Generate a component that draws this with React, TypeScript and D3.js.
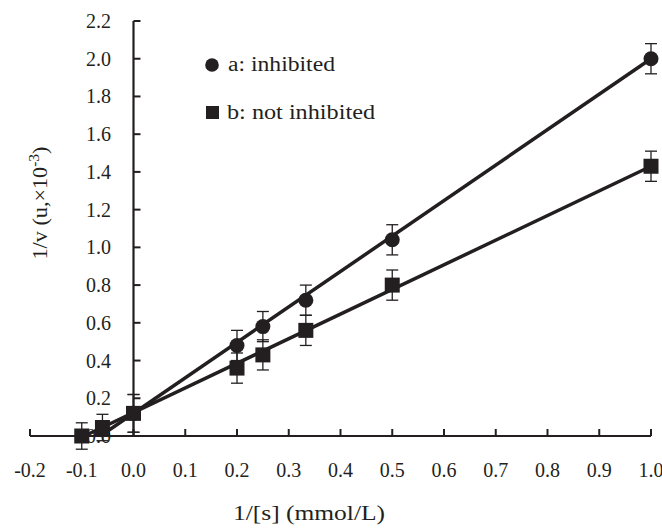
import { useEffect, useRef } from 'react'
import * as d3 from 'd3'

// series a: inhibited (circles)
const xA = [0.0, 0.2, 0.25, 0.333, 0.5, 1.0]
const yA = [0.12, 0.48, 0.58, 0.72, 1.04, 2.0]
const errA = [0.1, 0.08, 0.08, 0.08, 0.08, 0.08]

// series b: not inhibited (squares)
const xB = [-0.1, -0.06, 0.0, 0.2, 0.25, 0.333, 0.5, 1.0]
const yB = [0.0, 0.045, 0.12, 0.36, 0.43, 0.56, 0.8, 1.43]
const errB = [0.07, 0.07, 0.1, 0.08, 0.08, 0.08, 0.08, 0.08]

// fitted lines, end points
const lineA = [[-0.064, 0], [1.0, 2.0]]
const lineB = [[-0.095, 0], [1.0, 1.43]]

const xTicks = [-0.2, -0.1, 0.0, 0.1, 0.2, 0.3, 0.4, 0.5, 0.6, 0.7, 0.8, 0.9, 1.0]
const yTicks = [0.0, 0.2, 0.4, 0.6, 0.8, 1.0, 1.2, 1.4, 1.6, 1.8, 2.0, 2.2]

const INK = '#231f20'
const FONT = '"Liberation Serif", "Times New Roman", serif'

export default function App() {
  const svgRef = useRef<SVGSVGElement | null>(null)

  useEffect(() => {
    const el = svgRef.current
    if (!el) return
    const W = 662, H = 528
    d3.select(el).selectAll('*').remove()
    const svg = d3.select(el).attr('width', W).attr('height', H).attr('viewBox', `0 0 ${W} ${H}`)

    const x = d3.scaleLinear().domain([-0.2, 1.0]).range([30, 651])
    const y = d3.scaleLinear().domain([0, 2.2]).range([436, 21])

    // axes
    svg.append('line').attr('x1', x(-0.2)).attr('x2', x(1.0)).attr('y1', y(0)).attr('y2', y(0))
      .attr('stroke', INK).attr('stroke-width', 2.2)
    svg.append('line').attr('x1', x(0)).attr('x2', x(0)).attr('y1', y(2.2)).attr('y2', y(0))
      .attr('stroke', INK).attr('stroke-width', 2.2)

    xTicks.forEach(t => {
      svg.append('line').attr('x1', x(t)).attr('x2', x(t)).attr('y1', y(0)).attr('y2', y(0) - 7)
        .attr('stroke', INK).attr('stroke-width', 2)
      svg.append('text').attr('x', x(t)).attr('y', 477).attr('text-anchor', 'middle')
        .attr('font-size', 20).attr('font-family', FONT).attr('fill', INK)
        .text(d3.format('.1f')(t).replace('−', '-'))
    })
    yTicks.forEach(t => {
      svg.append('line').attr('x1', x(0)).attr('x2', x(0) + 7).attr('y1', y(t)).attr('y2', y(t))
        .attr('stroke', INK).attr('stroke-width', 2)
      svg.append('text').attr('x', 111).attr('y', y(t) + 7).attr('text-anchor', 'end')
        .attr('font-size', 20).attr('font-family', FONT).attr('fill', INK)
        .text(d3.format('.1f')(t))
    })

    // regression lines
    const line = d3.line<number[]>().x(d => x(d[0])).y(d => y(d[1]))
    ;[lineA, lineB].forEach(l => {
      svg.append('path').attr('d', line(l)).attr('fill', 'none')
        .attr('stroke', INK).attr('stroke-width', 3.5)
    })

    const errBars = (xs: number[], ys: number[], es: number[]) => {
      xs.forEach((xv, i) => {
        const cx = x(xv), top = y(ys[i] + es[i]), bot = y(ys[i] - es[i])
        svg.append('line').attr('x1', cx).attr('x2', cx).attr('y1', top).attr('y2', bot)
          .attr('stroke', INK).attr('stroke-width', 1.3)
        ;[top, bot].forEach(v => {
          svg.append('line').attr('x1', cx - 6).attr('x2', cx + 6).attr('y1', v).attr('y2', v)
            .attr('stroke', INK).attr('stroke-width', 1.3)
        })
      })
    }
    errBars(xA, yA, errA)
    errBars(xB, yB, errB)

    svg.selectAll('.pt-a').data(xA).join('circle').attr('class', 'pt-a')
      .attr('cx', d => x(d)).attr('cy', (_, i) => y(yA[i])).attr('r', 7.5).attr('fill', INK)
    svg.selectAll('.pt-b').data(xB).join('rect').attr('class', 'pt-b')
      .attr('x', d => x(d) - 7.5).attr('y', (_, i) => y(yB[i]) - 7.5)
      .attr('width', 15).attr('height', 15).attr('fill', INK)

    // legend
    svg.append('circle').attr('cx', 212).attr('cy', 65).attr('r', 6.8).attr('fill', INK)
    svg.append('text').attr('x', 228).attr('y', 71).attr('font-size', 20).attr('font-family', FONT)
      .attr('textLength', 107).attr('lengthAdjust', 'spacingAndGlyphs')
      .attr('fill', INK).text('a: inhibited')
    svg.append('rect').attr('x', 206).attr('y', 106).attr('width', 13).attr('height', 13).attr('fill', INK)
    svg.append('text').attr('x', 227).attr('y', 119).attr('font-size', 20).attr('font-family', FONT)
      .attr('textLength', 148).attr('lengthAdjust', 'spacingAndGlyphs')
      .attr('fill', INK).text('b: not inhibited')

    // axis titles
    svg.append('text').attr('x', 309).attr('y', 520).attr('text-anchor', 'middle')
      .attr('textLength', 152).attr('lengthAdjust', 'spacingAndGlyphs')
      .attr('font-size', 20).attr('font-family', FONT).attr('fill', INK).text('1/[s] (mmol/L)')
    const yl = svg.append('text').attr('transform', 'translate(47,203) rotate(-90) scale(1.11,1)')
      .attr('text-anchor', 'middle').attr('font-size', 20).attr('font-family', FONT).attr('fill', INK)
    yl.append('tspan').text('1/v (u,×10')
    yl.append('tspan').attr('dy', -8).attr('font-size', 14).text('-3')
    yl.append('tspan').attr('dy', 8).text(')')
  }, [])

  return (
    <div style={{ position: 'absolute', left: 0, top: 0 }}>
      <svg ref={svgRef} style={{ display: 'block' }} />
    </div>
  )
}
